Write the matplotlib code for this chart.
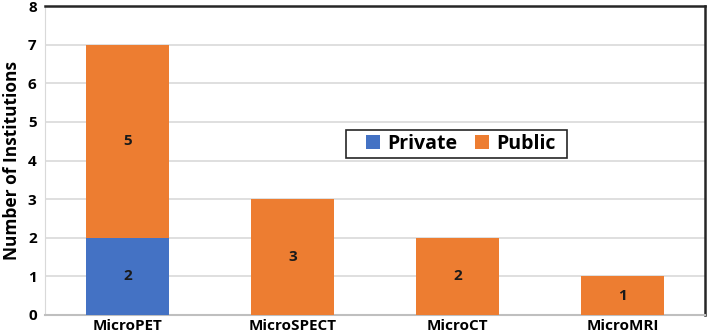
import matplotlib.pyplot as plt
import numpy as np
from matplotlib.patches import Rectangle

categories = ["MicroPET", "MicroSPECT", "MicroCT", "MicroMRI"]
private = [2, 0, 0, 0]
public = [5, 3, 2, 1]

plt.rcParams["font.family"] = ["Open Sans", "DejaVu Sans"]

W, H = 707, 335
fig = plt.figure(figsize=(W / 100, H / 100), dpi=100)
ax = fig.add_axes([45 / W, 1 - 315 / H, 660 / W, 309 / H])

x = np.arange(len(categories))
blue = "#4472C4"
orange = "#ED7D31"
ax.bar(x, private, width=0.5, color=blue, label="Private", zorder=3)
ax.bar(x, public, width=0.5, bottom=private, color=orange, label="Public", zorder=3)

for i in range(len(categories)):
    if private[i] > 0:
        ax.text(x[i], private[i] / 2, str(private[i]), ha="center", va="center",
                fontsize=11, fontweight="bold", color="#1a1a1a", zorder=4)
    if public[i] > 0:
        ax.text(x[i], private[i] + public[i] / 2, str(public[i]), ha="center", va="center",
                fontsize=11, fontweight="bold", color="#1a1a1a", zorder=4)

ax.set_xlim(-0.5, len(categories) - 0.5)
ax.set_ylim(0, 8)
ax.set_yticks(range(0, 9))
ax.set_xticks(x)
ax.set_xticklabels(categories, fontsize=11, fontweight="bold")
ax.tick_params(axis="y", labelsize=11, length=0, pad=6)
ax.tick_params(axis="x", length=0, pad=3)
for lbl in ax.get_yticklabels():
    lbl.set_fontweight("bold")
ax.set_ylabel("Number of Institutions", fontsize=12.5, fontweight="bold", labelpad=5)

ax.grid(axis="y", color="#D9D9D9", linewidth=1.2, zorder=0)
ax.spines["left"].set_color("#D9D9D9")
ax.spines["bottom"].set_color("#BFBFBF")
ax.spines["bottom"].set_linewidth(1.5)
ax.spines["top"].set_color("#262626")
ax.spines["top"].set_linewidth(1.8)
ax.spines["right"].set_color("#262626")
ax.spines["right"].set_linewidth(1.8)

# legend box drawn separately so the inner padding matches the reference
box = Rectangle((346 / W, 1 - 158 / H), 221 / W, 28 / H, transform=fig.transFigure,
                facecolor="white", edgecolor="#262626", linewidth=1.2, zorder=5)
fig.patches.append(box)
leg = fig.legend(loc="center", bbox_to_anchor=(461 / W, 1 - 144 / H),
                 ncol=2, frameon=False,
                 prop={"weight": "bold", "size": 14}, handlelength=0.7, handleheight=0.7,
                 columnspacing=0.9, handletextpad=0.4, borderpad=0, borderaxespad=0)
leg.set_zorder(6)

fig.savefig("out.png", dpi=100)
